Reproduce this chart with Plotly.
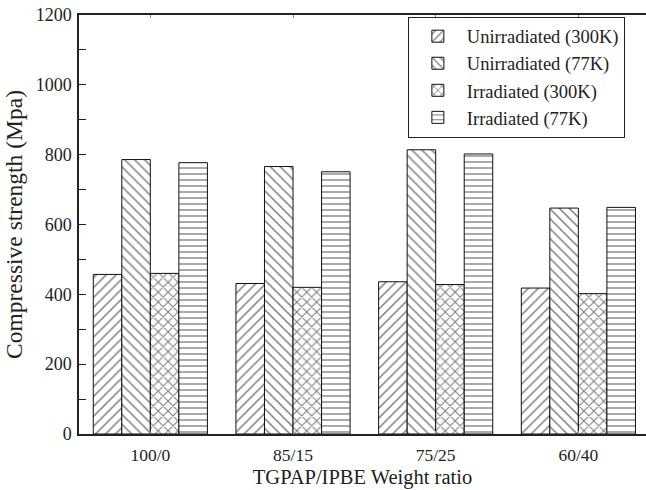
import plotly.graph_objects as go

categories = ["100/0", "85/15", "75/25", "60/40"]
series_names = ["Unirradiated (300K)", "Unirradiated (77K)", "Irradiated (300K)", "Irradiated (77K)"]
unirr_300 = [457, 431, 436, 418]
unirr_77 = [786, 766, 814, 647]
irr_300 = [460, 420, 428, 402]
irr_77 = [777, 751, 802, 649]
series_values = [unirr_300, unirr_77, irr_300, irr_77]
y_ticks = [0, 200, 400, 600, 800, 1000, 1200]

shapes = ["/", "\\", "x", "-"]
sizes = [7, 7, 7, 6]
solid = [0.22, 0.22, 0.28, 0.22]

FONT = "Liberation Serif"
fig = go.Figure()
for name, vals, shp, sz, so in zip(series_names, series_values, shapes, sizes, solid):
    fig.add_trace(go.Bar(
        x=categories, y=vals, name=name,
        marker=dict(color="white", line=dict(color="#111", width=1),
                    pattern=dict(shape=shp, fgcolor="#000", bgcolor="white",
                                 size=sz, solidity=so, fillmode="overlay")),
    ))

fig.update_layout(
    width=646, height=490,
    margin=dict(l=79, r=0, t=15, b=56),
    paper_bgcolor="white", plot_bgcolor="white",
    barmode="group", bargap=0.2, bargroupgap=0,
    font=dict(family=FONT, color="#222", size=18),
    showlegend=True,
    legend=dict(x=0.58, y=0.996, xanchor="left", yanchor="top",
                bordercolor="#222", borderwidth=1, bgcolor="white",
                font=dict(family=FONT, size=18.5, color="#222"),
                itemwidth=48, tracegroupgap=0),
)
fig.update_xaxes(
    range=[-0.5, 3.474], showline=True, linecolor="#222", linewidth=1.5,
    mirror="ticks", ticks="inside", ticklen=3, tickcolor="#888",
    tickfont=dict(size=17.5), ticklabelstandoff=4, showgrid=False, zeroline=False,
    title=dict(text="TGPAP/IPBE Weight ratio", font=dict(size=20.5), standoff=6),
)
fig.update_yaxes(
    range=[0, 1200], tickvals=y_ticks, showline=True, linecolor="#222", linewidth=1.5,
    mirror=False, ticks="inside", ticklen=7, tickcolor="#222",
    minor=dict(dtick=100, ticks="inside", ticklen=7, tickcolor="#222"),
    tickfont=dict(size=18), ticklabelstandoff=2, showgrid=False, zeroline=False,
    title=dict(text="Compressive strength (Mpa)", font=dict(size=23.5), standoff=6),
)
fig.write_html("out.html")
